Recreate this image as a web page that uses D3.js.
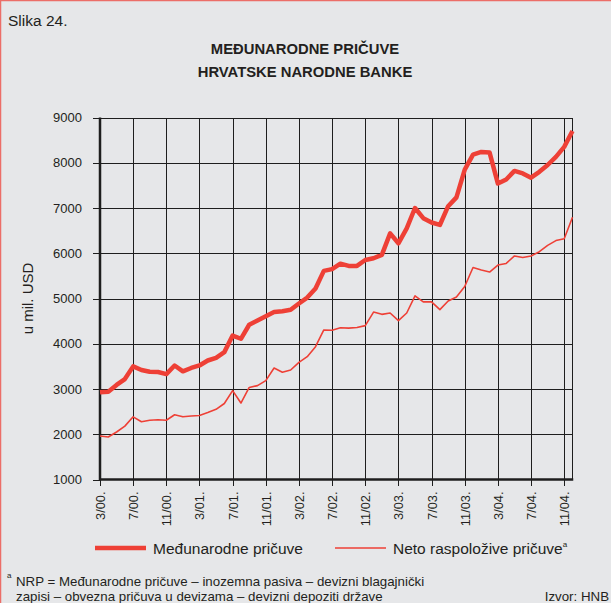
<!DOCTYPE html>
<html>
<head>
  <meta charset="utf-8">
  <script src="https://d3js.org/d3.v7.min.js"></script>
  <style>
    body {
      margin: 0;
      background: #e6e7e9;
      font-family: "Liberation Sans", Arial, sans-serif;
    }
    .grid line { stroke: #1e1e1e; stroke-width: 1; shape-rendering: crispEdges; }
    .axis text { font-family: "Liberation Sans", Arial, sans-serif; fill: #231f20; }
    .axis path { display: none; }
    .axis line { stroke: #1e1e1e; shape-rendering: crispEdges; }
  </style>
</head>
<body>
  <script>
    // monthly points, 3/00 .. 12/04
    var months = [
      "3/00","4/00","5/00","6/00","7/00","8/00","9/00","10/00","11/00","12/00",
      "1/01","2/01","3/01","4/01","5/01","6/01","7/01","8/01","9/01","10/01","11/01","12/01",
      "1/02","2/02","3/02","4/02","5/02","6/02","7/02","8/02","9/02","10/02","11/02","12/02",
      "1/03","2/03","3/03","4/03","5/03","6/03","7/03","8/03","9/03","10/03","11/03","12/03",
      "1/04","2/04","3/04","4/04","5/04","6/04","7/04","8/04","9/04","10/04","11/04","12/04"
    ];

    // tick labels (every 4th month)
    var tickLabels = ["3/00","7/00","11/00","3/01","7/01","11/01","3/02","7/02",
                      "11/02","3/03","7/03","11/03","3/04","7/04","11/04"];

    var yTicks = [1000, 2000, 3000, 4000, 5000, 6000, 7000, 8000, 9000];

    // Međunarodne pričuve (mil. USD)
    var medjunarodne = [
      2930, 2940, 3090, 3220, 3500, 3420, 3380, 3375, 3330, 3520,
      3390, 3465, 3520, 3630, 3690, 3815, 4180, 4110, 4420, 4515, 4610, 4700,
      4720, 4750, 4890, 5020, 5220, 5610, 5650, 5770, 5720, 5720, 5850, 5890,
      5965, 6440, 6220, 6550, 7000, 6775, 6680, 6625, 7040, 7235, 7850, 8180,
      8240, 8225, 7540, 7630, 7820, 7765, 7670, 7800, 7950, 8130, 8350, 8700
    ];

    // Neto raspoložive pričuve (mil. USD)
    var neto = [
      1960, 1940, 2050, 2180, 2385, 2275, 2310, 2320, 2310, 2430,
      2385, 2405, 2415, 2480, 2550, 2680, 2965, 2690, 3035, 3075, 3185, 3465,
      3370, 3420, 3590, 3715, 3935, 4305, 4300, 4355, 4345, 4360, 4400, 4700,
      4650, 4680, 4510, 4680, 5060, 4925, 4925, 4755, 4945, 5035, 5265, 5685,
      5630, 5585, 5740, 5775, 5940, 5905, 5940, 6035, 6175, 6280, 6320, 6795
    ];

    var W = 611, H = 603;
    var pLeft = 100, pRight = 572.5, pTop = 117.5, pBottom = 479.5;
    var red = "#ee4036";

    var svg = d3.select("body").append("svg")
      .attr("width", W)
      .attr("height", H);

    // page border (red, left + top)
    svg.append("line").attr("x1", 0.5).attr("x2", 0.5).attr("y1", 0).attr("y2", H)
      .attr("stroke", "#ec6e68").attr("stroke-width", 1.5);
    svg.append("line").attr("x1", 0).attr("x2", W).attr("y1", 0.5).attr("y2", 0.5)
      .attr("stroke", "#ec6e68").attr("stroke-width", 1.5);

    // header
    svg.append("text").attr("x", 8).attr("y", 26)
      .style("font-size", "15.5px").attr("fill", "#231f20")
      .text("Slika 24.");

    svg.append("text").attr("x", 305).attr("y", 54)
      .attr("text-anchor", "middle")
      .style("font-size", "14.8px").style("font-weight", "bold").attr("fill", "#231f20")
      .text("MEĐUNARODNE PRIČUVE");
    svg.append("text").attr("x", 305).attr("y", 77)
      .attr("text-anchor", "middle")
      .style("font-size", "14.8px").style("font-weight", "bold").attr("fill", "#231f20")
      .text("HRVATSKE NARODNE BANKE");

    // scales
    var x = d3.scalePoint().domain(months).range([pLeft, pRight]);
    var y = d3.scaleLinear().domain([1000, 9000]).range([pBottom, pTop]);

    // grid
    var grid = svg.append("g").attr("class", "grid");
    grid.selectAll(".hg").data(yTicks.slice(1)).enter().append("line")
      .attr("x1", pLeft).attr("x2", pRight)
      .attr("y1", function(d){ return Math.round(y(d)) + 0.5; })
      .attr("y2", function(d){ return Math.round(y(d)) + 0.5; });
    grid.selectAll(".vg").data(tickLabels.slice(1)).enter().append("line")
      .attr("x1", function(d){ return Math.round(x(d)) + 0.5; })
      .attr("x2", function(d){ return Math.round(x(d)) + 0.5; })
      .attr("y1", pTop).attr("y2", pBottom);
    // right border
    grid.append("line").attr("x1", pRight).attr("x2", pRight)
      .attr("y1", pTop).attr("y2", pBottom).style("stroke-width", 1.5);

    // y axis
    var yAxis = svg.append("g").attr("class", "axis")
      .attr("transform", "translate(" + pLeft + ",0)")
      .call(d3.axisLeft(y).tickValues(yTicks).tickSize(7).tickPadding(11).tickFormat(d3.format("d")));
    yAxis.selectAll("text").style("font-size", "13px");

    // x axis
    var xAxis = svg.append("g").attr("class", "axis")
      .attr("transform", "translate(0," + pBottom + ")")
      .call(d3.axisBottom(x).tickValues(tickLabels).tickSize(6).tickFormat(function(d){ return d + "."; }));
    xAxis.selectAll("text")
      .style("font-size", "12.8px")
      .attr("text-anchor", "end")
      .attr("transform", "rotate(-90)")
      .attr("x", -12).attr("y", 0).attr("dy", "0.35em");

    // heavy axis lines
    svg.append("line").attr("x1", pLeft).attr("x2", pLeft).attr("y1", pTop).attr("y2", pBottom + 1)
      .attr("stroke", "#1e1e1e").attr("stroke-width", 2.5);
    svg.append("line").attr("x1", pLeft).attr("x2", pRight + 0.75).attr("y1", pBottom).attr("y2", pBottom)
      .attr("stroke", "#1e1e1e").attr("stroke-width", 2.5);

    // y label
    svg.append("text")
      .attr("transform", "translate(33," + ((pTop + pBottom) / 2) + ") rotate(-90)")
      .attr("text-anchor", "middle")
      .style("font-size", "15px").attr("fill", "#231f20")
      .text("u mil. USD");

    // lines
    var line = d3.line()
      .x(function(d, i){ return x(months[i]); })
      .y(function(d){ return y(d); });

    svg.append("path").datum(neto)
      .attr("d", line).attr("fill", "none")
      .attr("stroke", red).attr("stroke-width", 1.6).attr("stroke-linejoin", "round");
    svg.append("path").datum(medjunarodne)
      .attr("d", line).attr("fill", "none")
      .attr("stroke", red).attr("stroke-width", 4.5).attr("stroke-linejoin", "round");

    // legend
    var lg = svg.append("g").style("font-size", "15.5px").attr("fill", "#231f20");
    lg.append("line").attr("x1", 95).attr("x2", 146).attr("y1", 548).attr("y2", 548)
      .attr("stroke", red).attr("stroke-width", 4.5);
    lg.append("text").attr("x", 153).attr("y", 554).text("Međunarodne pričuve");
    lg.append("line").attr("x1", 335).attr("x2", 386).attr("y1", 548).attr("y2", 548)
      .attr("stroke", red).attr("stroke-width", 1.6);
    var t = lg.append("text").attr("x", 393).attr("y", 554).text("Neto raspoložive pričuve");
    t.append("tspan").attr("dy", -7).style("font-size", "8px").text("a");

    // footnote
    var fn = svg.append("g").style("font-size", "13.3px").attr("fill", "#231f20");
    fn.append("text").attr("x", 7).attr("y", 578).style("font-size", "8px").text("a");
    fn.append("text").attr("x", 16).attr("y", 586)
      .text("NRP = Međunarodne pričuve – inozemna pasiva – devizni blagajnički");
    fn.append("text").attr("x", 16).attr("y", 601)
      .text("zapisi – obvezna pričuva u devizama – devizni depoziti države");
    fn.append("text").attr("x", 609).attr("y", 601).attr("text-anchor", "end")
      .text("Izvor: HNB");
  </script>
</body>
</html>
